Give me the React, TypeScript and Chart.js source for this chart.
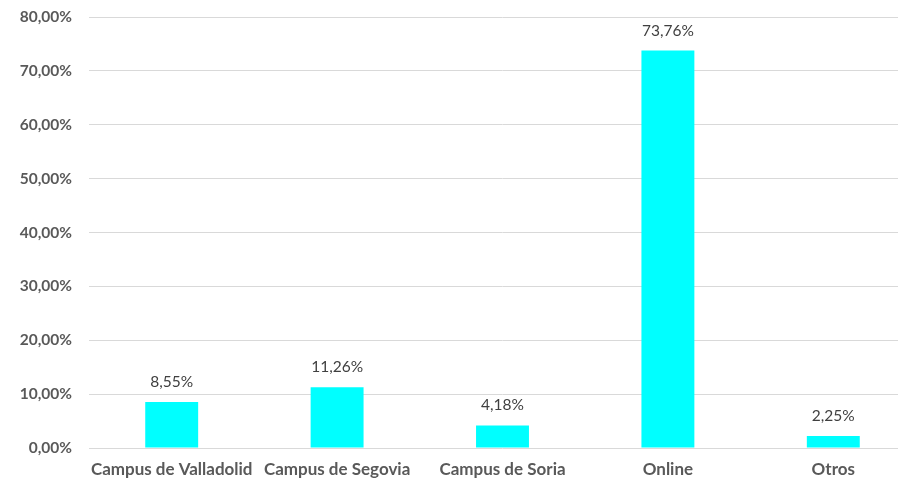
import React, { useEffect, useRef } from "react";
import { Chart, registerables } from "chart.js";

Chart.register(...registerables);

const categories = ["Campus de Valladolid", "Campus de Segovia", "Campus de Soria", "Online", "Otros"];
const values = [8.55, 11.26, 4.18, 73.76, 2.25];
const yMax = 80;
const yStep = 10;

const fmt = (v: number) => v.toFixed(2).replace(".", ",") + "%";

const FONT = "Lato, 'Open Sans', sans-serif";

const labelPlugin = {
  id: "barLabels",
  afterDatasetsDraw(chart: any) {
    const ctx = chart.ctx;
    const meta = chart.getDatasetMeta(0);
    ctx.save();
    ctx.font = `15.5px ${FONT}`;
    ctx.fillStyle = "#404040";
    ctx.textAlign = "center";
    ctx.textBaseline = "middle";
    meta.data.forEach((el: any, i: number) => {
      ctx.fillText(fmt(values[i]), el.x, el.y - 20);
    });
    ctx.restore();
  },
};

export default function App() {
  const ref = useRef<HTMLCanvasElement>(null);
  useEffect(() => {
    if (!ref.current) return;
    const chart = new Chart(ref.current, {
      type: "bar",
      data: {
        labels: categories,
        datasets: [
          {
            data: values,
            backgroundColor: "#00FFFF",
            barPercentage: 1,
            categoryPercentage: 0.32,
          },
        ],
      },
      options: {
        animation: false,
        responsive: false,
        devicePixelRatio: 1,
        layout: { padding: { top: 17, right: 0, left: 0, bottom: 0 } },
        plugins: { legend: { display: false }, tooltip: { enabled: false } },
        scales: {
          x: {
            grid: { display: false, drawTicks: false },
            border: { display: false },
            ticks: {
              color: "#595959",
              font: { family: FONT, size: 17, weight: "bold" },
              padding: 11,
              maxRotation: 0,
              autoSkip: false,
            },
            afterFit: (s: any) => {
              s.height = 31;
              s.paddingLeft = 0;
              s.paddingRight = 0;
            },
          },
          y: {
            min: 0,
            max: yMax,
            grid: { color: "#d9d9d9", drawTicks: false, lineWidth: 1 },
            border: { display: false },
            ticks: {
              stepSize: yStep,
              color: "#595959",
              font: { family: FONT, size: 15.5, weight: "bold" },
              padding: 17,
              callback: (v: any) => fmt(Number(v)),
            },
            afterFit: (s: any) => {
              s.width = 89;
              s.paddingTop = 0;
              s.paddingBottom = 0;
            },
          },
        },
      },
      plugins: [labelPlugin],
    });
    return () => chart.destroy();
  }, []);
  return (
    <div
      style={{
        position: "fixed",
        left: 0,
        top: 0,
        width: 898,
        height: 479,
        overflow: "hidden",
        background: "#fff",
      }}
    >
      <canvas ref={ref} width={916} height={479} style={{ width: 916, height: 479, display: "block" }} />
    </div>
  );
}
